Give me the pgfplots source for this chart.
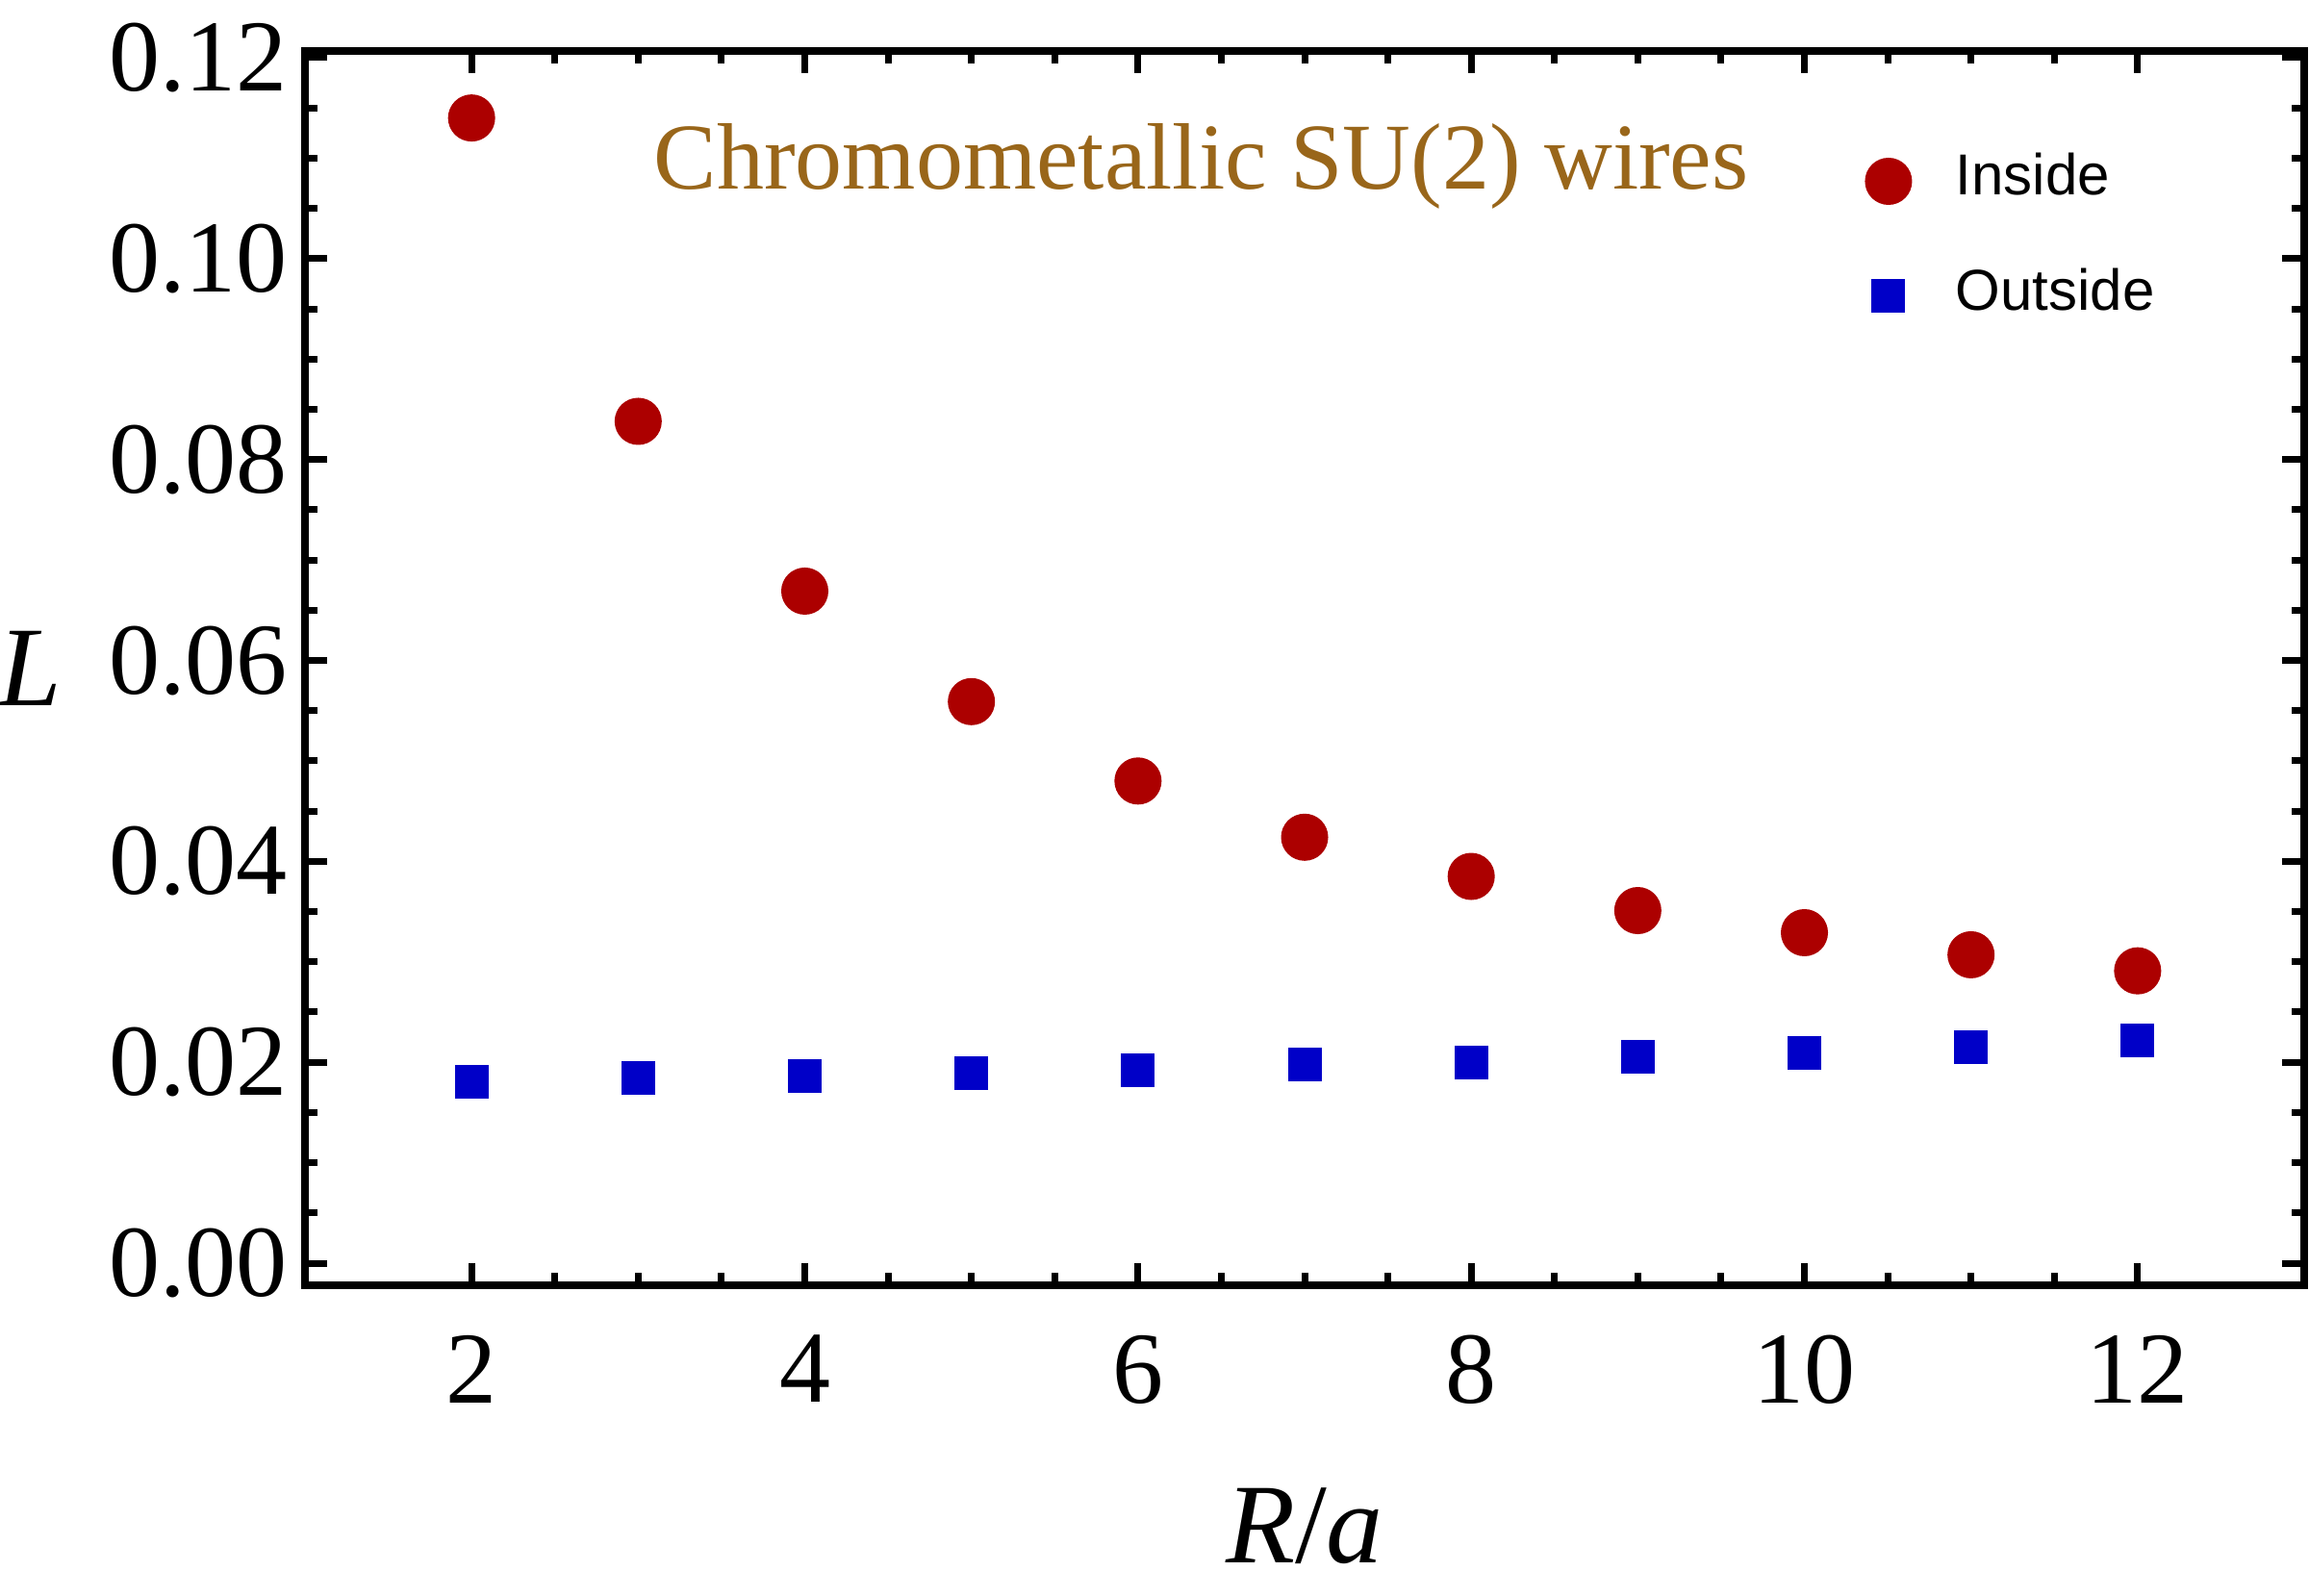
\documentclass[border=0pt]{standalone}
\usepackage{fontspec}
\setmainfont{Liberation Serif}
\newfontfamily\legendfont{Liberation Sans}
\usepackage{pgfplots}
\pgfplotsset{compat=1.18}
\definecolor{inred}{RGB}{172,0,0}
\definecolor{outblue}{RGB}{0,0,200}
\definecolor{titlecol}{RGB}{153,102,26}
\begin{document}
\begin{tikzpicture}
\useasboundingbox (-31.7pt,-32.2pt) rectangle (208.3pt,133.6pt);
\begin{axis}[
  scale only axis,
  width=207.8pt, height=128.3pt,
  xmin=1, xmax=13, ymin=-0.0022, ymax=0.12067,
  xtick={2,4,...,12}, ytick={0,0.02,...,0.121},
  minor x tick num=3, minor y tick num=3,
  tick align=inside,
  major tick length=2.3pt, minor tick length=1.3pt,
  axis line style={line width=0.8pt},
  every tick/.style={black, line width=0.7pt},
  /pgf/number format/assume math mode=true,
  tick label style={font=\fontsize{10.6pt}{12pt}\selectfont},
  yticklabel style={/pgf/number format/fixed, /pgf/number format/fixed zerofill, /pgf/number format/precision=2, inner sep=0pt, xshift=-1.6pt},
  xticklabel style={inner sep=0pt, yshift=-5pt},
  scaled y ticks=false,
  every axis y label/.style={at={(rel axis cs:0,0.5)}, anchor=center, xshift=-28.6pt},
  every axis x label/.style={at={(rel axis cs:0.5,0)}, anchor=center, yshift=-25pt},
  label style={font=\fontsize{11.8pt}{13pt}\selectfont},
  xlabel={\textit{R}/\textit{a}},
  ylabel={\textit{L}},
  clip=false,
  legend cell align=left,
  legend style={draw=none, fill=none, at={(axis cs:10.19,0.1126)}, anchor=north west,
    font=\legendfont\fontsize{6pt}{7pt}\selectfont, nodes={inner sep=0pt}, column sep=4.75pt, row sep=6.1pt},
]
\addplot[only marks, mark=*, mark size=2.25pt, color=inred, mark options={draw=none, fill=inred}] coordinates {
(2,0.1140) (3,0.0838) (4,0.0669) (5,0.0559) (6,0.0480) (7,0.0424)
(8,0.0385) (9,0.0351) (10,0.0329) (11,0.0307) (12,0.0291)
};
\addlegendentry{Inside}
\addplot[only marks, mark=square*, mark size=1.55pt, color=outblue, mark options={draw=none, fill=outblue}] coordinates {
(2,0.0181) (3,0.0184) (4,0.0186) (5,0.0189) (6,0.0192) (7,0.0198)
(8,0.0200) (9,0.0205) (10,0.0209) (11,0.0215) (12,0.0222)
};
\addlegendentry{Outside}
\node[anchor=base, text=titlecol, font=\fontsize{9.8pt}{11pt}\selectfont, inner sep=0pt] at (axis cs:6.38,0.1069) {Chromometallic SU(2) wires};
\end{axis}
\end{tikzpicture}
\end{document}
